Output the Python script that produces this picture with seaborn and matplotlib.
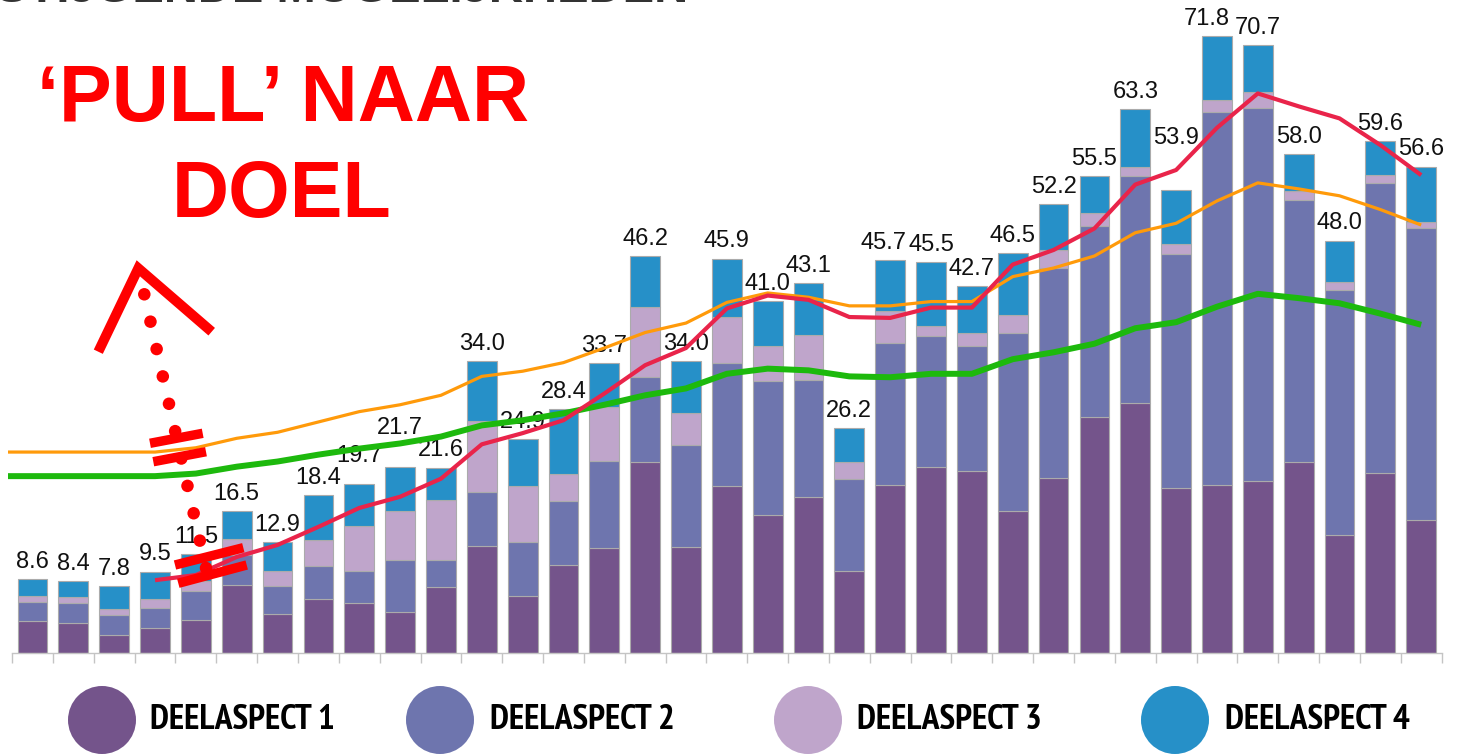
import numpy as np
import pandas as pd
import matplotlib
matplotlib.use("Agg")
import matplotlib.pyplot as plt
import seaborn as sns
from matplotlib.patches import Ellipse
from matplotlib.lines import Line2D
from matplotlib import font_manager as fm

# ---------------- data ----------------
CATEGORIES = [f"P{i}" for i in range(1, 36)]
DEEL1 = [3.7, 3.5, 2.1, 3.0, 3.9, 8.0, 4.6, 6.3, 5.9, 4.8, 7.7, 12.5, 6.7, 10.3, 12.2,
         22.2, 12.4, 19.5, 16.1, 18.2, 9.6, 19.6, 21.7, 21.2, 16.5, 20.4, 27.5, 29.1,
         19.2, 19.6, 20.0, 22.3, 13.7, 21.0, 15.5]
DEEL2 = [2.3, 2.3, 2.3, 2.3, 3.3, 3.4, 3.2, 3.8, 3.7, 6.1, 3.2, 6.3, 6.3, 7.4, 10.2,
         9.9, 11.8, 14.2, 15.6, 13.6, 10.7, 16.5, 15.2, 14.5, 20.8, 24.4, 22.2, 26.4,
         27.2, 43.3, 43.4, 30.4, 28.6, 33.7, 33.9]
DEEL3 = [0.7, 0.8, 0.7, 1.0, 1.2, 1.9, 1.8, 3.1, 5.2, 5.7, 6.9, 8.2, 6.4, 3.2, 6.2,
         8.2, 3.7, 5.4, 4.0, 5.2, 2.0, 3.7, 1.2, 1.6, 2.0, 2.1, 1.5, 1.0, 1.2, 1.4,
         1.9, 1.1, 0.9, 0.9, 0.8]
DEEL4 = [1.9, 1.8, 2.7, 3.2, 3.1, 3.2, 3.3, 5.2, 4.9, 5.1, 3.8, 7.0, 5.5, 7.5, 5.1,
         5.9, 6.1, 6.8, 5.3, 6.1, 3.9, 5.9, 7.4, 5.4, 7.2, 5.3, 4.3, 6.8, 6.3, 7.5,
         5.4, 4.2, 4.8, 4.0, 6.4]
TOTAL_LABELS = ["8.6", "8.4", "7.8", "9.5", "11.5", "16.5", "12.9", "18.4", "19.7", "21.7",
                "21.6", "34.0", "24.9", "28.4", "33.7", "46.2", "34.0", "45.9", "41.0", "43.1",
                "26.2", "45.7", "45.5", "42.7", "46.5", "52.2", "55.5", "63.3", "53.9", "71.8",
                "70.7", "58.0", "48.0", "59.6", "56.6"]
ORANGE_LINE = [23.4, 23.4, 23.4, 23.4, 23.9, 25.0, 25.7, 26.9, 28.1, 28.9, 30.0, 32.2,
               32.8, 33.8, 35.5, 37.3, 38.4, 40.8, 41.9, 41.4, 40.4, 40.4, 40.9, 40.9,
               43.8, 44.8, 46.2, 48.9, 50.0, 52.6, 54.7, 54.0, 53.2, 51.6, 49.8]
RED_LINE = [np.nan, np.nan, np.nan, 8.5, 9.1, 11.2, 12.6, 14.7, 16.9, 18.2, 20.3, 24.3,
            25.6, 27.1, 30.2, 33.5, 35.5, 40.1, 41.6, 41.1, 39.1, 39.0, 40.2, 40.2,
            45.2, 46.9, 49.4, 54.5, 56.2, 61.1, 65.1, 63.6, 62.2, 59.1, 55.6]
GREEN_LINE = [20.6, 20.6, 20.6, 20.6, 20.9, 21.7, 22.3, 23.1, 23.8, 24.4, 25.2, 26.5,
              27.1, 27.9, 28.9, 30.0, 30.8, 32.5, 33.1, 32.9, 32.2, 32.1, 32.5, 32.5,
              34.2, 35.0, 36.0, 37.8, 38.5, 40.3, 41.8, 41.3, 40.7, 39.5, 38.2]
LEGEND_LABELS = ["DEELASPECT 1", "DEELASPECT 2", "DEELASPECT 3", "DEELASPECT 4"]
ANNOT_LINE1 = "\u2018PULL\u2019 NAAR"
ANNOT_LINE2 = "DOEL"
TOP_TITLE = "STIJGENDE MOGELIJKHEDEN"

# ---------------- style ----------------
SEG_COLORS = ["#74548B", "#6E75AE", "#BFA5CB", "#2690C8"]
ORANGE, RED_LN, GREEN = "#FF9A0A", "#E9244A", "#1DB90D"
ANNOT_RED = "#FF0000"
# label nudges (pixels) to avoid collisions, as in the original
LABEL_DX_PX = {21: -7, 29: -10}
LABEL_DY_PX = {8: 11, 9: 22, 28: 35}

W, H = 1461, 755
sns.set_theme(style="white")
plt.rcParams["font.family"] = ["Liberation Sans", "DejaVu Sans"]

fig = plt.figure(figsize=(W / 100, H / 100), dpi=100)


def fpx(x, y):
    """figure pixel (from top-left) -> figure fraction"""
    return x / W, 1 - y / H


BASE_PX, PPU = 653.3, 8.6
ax = fig.add_axes([8 / W, (H - BASE_PX) / H, (1441.6 - 8) / W, BASE_PX / H])

df = pd.DataFrame({"cat": CATEGORIES, "d1": DEEL1, "d2": DEEL2, "d3": DEEL3, "d4": DEEL4})
bottom = np.zeros(len(df))
for col, colr in zip(["d1", "d2", "d3", "d4"], SEG_COLORS):
    sns.barplot(data=df, x="cat", y=col, color=colr, saturation=1, width=0.73,
                edgecolor="#ababab", linewidth=0.8, bottom=bottom.copy(),
                errorbar=None, ax=ax, zorder=2)
    bottom += df[col].to_numpy()
totals = bottom

XL = -0.6
ax.set_xlim(XL, 34.5)
ax.set_ylim(0, BASE_PX / PPU)
ax.set_yticks([])
ax.set_xticks(np.arange(-0.5, 35, 1))
ax.set_xticklabels([])
ax.tick_params(axis="x", bottom=True, length=7.2, width=1, color="#c4c4c4", direction="out")
for s in ["left", "top", "right"]:
    ax.spines[s].set_visible(False)
ax.spines["bottom"].set_color("#c4c4c4")
ax.spines["bottom"].set_linewidth(1)
ax.spines["bottom"].set_bounds(-0.5, 34.5)

# value labels
for i, lab in enumerate(TOTAL_LABELS):
    dx = LABEL_DX_PX.get(i, 0) * 0.72
    dy = 8 + LABEL_DY_PX.get(i, 0) * 0.72
    ax.annotate(lab, (i, totals[i]), xytext=(dx, dy), textcoords="offset points",
                ha="center", va="baseline", fontsize=17, color="#111111", zorder=3,
                annotation_clip=False)

# lines
xs = np.arange(len(CATEGORIES))
lines_df = pd.DataFrame({"x": xs, "orange": ORANGE_LINE, "red": RED_LINE, "green": GREEN_LINE})
for col, colr, lw, lead in [("orange", ORANGE, 2.3, True), ("green", GREEN, 4.3, True),
                            ("red", RED_LN, 3.0, False)]:
    sub = lines_df[["x", col]].dropna()
    n_before = len(ax.lines)
    sns.lineplot(data=sub, x="x", y=col, color=colr, lw=lw, ax=ax, zorder=4,
                 solid_capstyle="butt", solid_joinstyle="round")
    ln = ax.lines[n_before]
    ln.set_clip_on(False)
    if lead:  # flat lead-in to the left edge of the plot
        xd, yd = ln.get_data()
        ln.set_data(np.r_[XL, xd], np.r_[yd[0], yd])
ax.set_xlabel("")
ax.set_ylabel("")

# ---------------- legend (manual) ----------------
def pick_condensed_bold():
    cands = []
    for f in fm.fontManager.ttflist:
        fn = f.fname.lower()
        if "italic" in fn or "oblique" in fn:
            continue
        w = f.weight if isinstance(f.weight, int) else (700 if f.weight == "bold" else 400)
        if w < 700 or w > 800:
            continue
        if "narrow" in fn:
            rank = 0
        elif "semicondensed" in fn or "semi-condensed" in fn:
            rank = 2
        elif "extracondensed" in fn or "extra-condensed" in fn:
            rank = 3
        elif "condensed" in fn:
            rank = 1
        else:
            continue
        cands.append((rank, abs(w - 700), f.fname))
    if not cands:
        return None
    cands.sort()
    return cands[0][2]


cond_path = pick_condensed_bold()
renderer = fig.canvas.get_renderer()
leg_cx = [102, 440, 808, 1175]
leg_tx = [150, 490, 857, 1225]
TARGET_W = 196
for cx, tx, colr, lab in zip(leg_cx, leg_tx, SEG_COLORS, LEGEND_LABELS):
    fig.patches.append(Ellipse(fpx(cx, 720), 68 / W, 68 / H, transform=fig.transFigure,
                               facecolor=colr, edgecolor="none"))
    if cond_path:
        fp = fm.FontProperties(fname=cond_path, size=23)
    else:
        fp = fm.FontProperties(family="Liberation Sans", weight="bold", size=23)
    t = fig.text(*fpx(tx, 720), lab, ha="left", va="center", fontproperties=fp,
                 color="black")
    wpx = t.get_window_extent(renderer).width
    fp.set_size(min(23 * TARGET_W / wpx, 25.5))
    t.set_fontproperties(fp)

# ---------------- annotations ----------------
fig.text(*fpx(-4, 2), TOP_TITLE, ha="left", va="baseline", fontsize=34,
         fontweight="bold", color="#333333")
fig.text(*fpx(283, 121), ANNOT_LINE1, ha="center", va="baseline", fontsize=57,
         fontweight="bold", color=ANNOT_RED)
fig.text(*fpx(281.5, 216.7), ANNOT_LINE2, ha="center", va="baseline", fontsize=57,
         fontweight="bold", color=ANNOT_RED)


def fig_line(pts, lw, **kw):
    xs_, ys_ = zip(*[fpx(x, y) for x, y in pts])
    fig.lines.append(Line2D(xs_, ys_, transform=fig.transFigure, color=ANNOT_RED,
                            lw=lw, **kw))


# chevron
fig_line([(98.3, 351.7), (138.3, 268.3), (211.7, 331.7)], 7.2,
         solid_joinstyle="miter", solid_capstyle="butt")
# dotted path
t_ = np.linspace(0, 1, 11)
for x_, y_ in zip(144.3 + t_ * (206 - 144.3), 294.3 + t_ * (568 - 294.3)):
    fig.patches.append(Ellipse(fpx(x_, y_), 12.5 / W, 12.5 / H, transform=fig.transFigure,
                               facecolor=ANNOT_RED, edgecolor="none"))
# break marks
for seg in [[(150, 443.3), (202.7, 433.3)], [(153.3, 461.7), (206, 451.7)],
            [(175, 565), (243.3, 547.7)], [(178.3, 583.3), (246.7, 565)]]:
    fig_line(seg, 6.8, solid_capstyle="butt")

fig.savefig("out.png", dpi=100)
